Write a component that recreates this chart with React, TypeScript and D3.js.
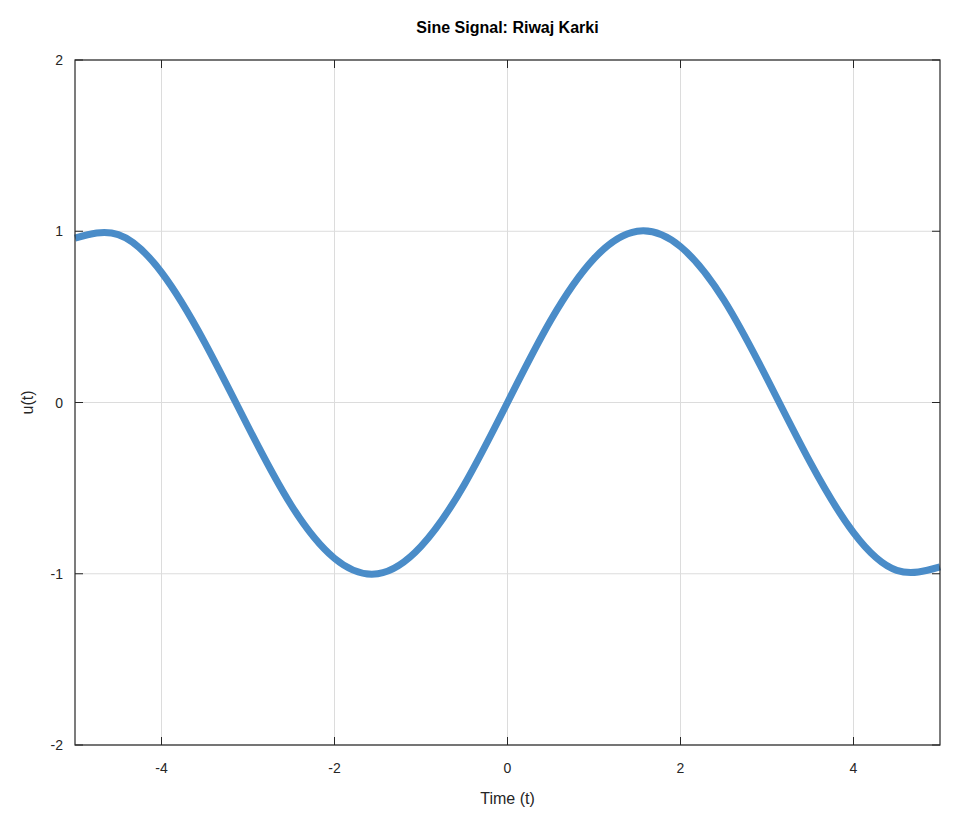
import * as React from "react";
import * as d3 from "d3";

// values
const timeValues = [-5, -4.5, -4, -3.5, -3, -2.5, -2, -1.5, -1, -0.5, 0, 0.5, 1, 1.5, 2, 2.5, 3, 3.5, 4, 4.5, 5];
const signalValues = [0.96, 0.98, 0.76, 0.35, -0.14, -0.6, -0.91, -1.0, -0.84, -0.48, 0, 0.48, 0.84, 1.0, 0.91, 0.6, 0.14, -0.35, -0.76, -0.98, -0.96];
const xTicks = [-4, -2, 0, 2, 4];
const yTicks = [-2, -1, 0, 1, 2];

export default function App() {
  const width = 964;
  const height = 818;
  const margin = { top: 60, right: 24, bottom: 73, left: 75 };
  const x = d3.scaleLinear().domain([-5, 5]).range([margin.left, width - margin.right]);
  const y = d3.scaleLinear().domain([-2, 2]).range([height - margin.bottom, margin.top]);
  const pts: [number, number][] = timeValues.map((t, i) => [t, signalValues[i]]);
  const line = d3
    .line<[number, number]>()
    .x((d) => x(d[0]))
    .y((d) => y(d[1]))
    .curve(d3.curveNatural);
  const x0 = x(-5), x1 = x(5), y0 = y(-2), y1 = y(2);
  const font = "Liberation Sans, Arial, sans-serif";

  return (
    <svg width={width} height={height} style={{ position: "absolute", left: 0, top: 0 }} fontFamily={font}>
      <rect width={width} height={height} fill="#fff" />
      {xTicks.map((t) => (
        <line key={"gx" + t} x1={x(t)} x2={x(t)} y1={y0} y2={y1} stroke="#dcdcdc" />
      ))}
      {yTicks.map((t) => (
        <line key={"gy" + t} x1={x0} x2={x1} y1={y(t)} y2={y(t)} stroke="#dcdcdc" />
      ))}
      <path d={line(pts) ?? ""} fill="none" stroke="#4a8cc8" strokeWidth={7} />
      <rect x={x0} y={y1} width={x1 - x0} height={y0 - y1} fill="none" stroke="#262626" strokeWidth={1.2} />
      {xTicks.map((t) => (
        <g key={"tx" + t}>
          <line x1={x(t)} x2={x(t)} y1={y0} y2={y0 - 8} stroke="#262626" />
          <line x1={x(t)} x2={x(t)} y1={y1} y2={y1 + 8} stroke="#262626" />
          <text x={x(t)} y={y0 + 28} textAnchor="middle" fontSize={14} fill="#262626">
            {t}
          </text>
        </g>
      ))}
      {yTicks.map((t) => (
        <g key={"ty" + t}>
          <line x1={x0} x2={x0 + 8} y1={y(t)} y2={y(t)} stroke="#262626" />
          <line x1={x1} x2={x1 - 8} y1={y(t)} y2={y(t)} stroke="#262626" />
          <text x={x0 - 12} y={y(t) + 5} textAnchor="end" fontSize={14} fill="#262626">
            {t}
          </text>
        </g>
      ))}
      <text x={(x0 + x1) / 2} y={33} textAnchor="middle" fontSize={16} fontWeight="bold" fill="#000">
        Sine Signal: Riwaj Karki
      </text>
      <text x={(x0 + x1) / 2} y={804} textAnchor="middle" fontSize={16} fill="#262626">
        Time (t)
      </text>
      <text transform={`translate(33,${(y0 + y1) / 2}) rotate(-90)`} textAnchor="middle" fontSize={16} fill="#262626">
        u(t)
      </text>
    </svg>
  );
}
